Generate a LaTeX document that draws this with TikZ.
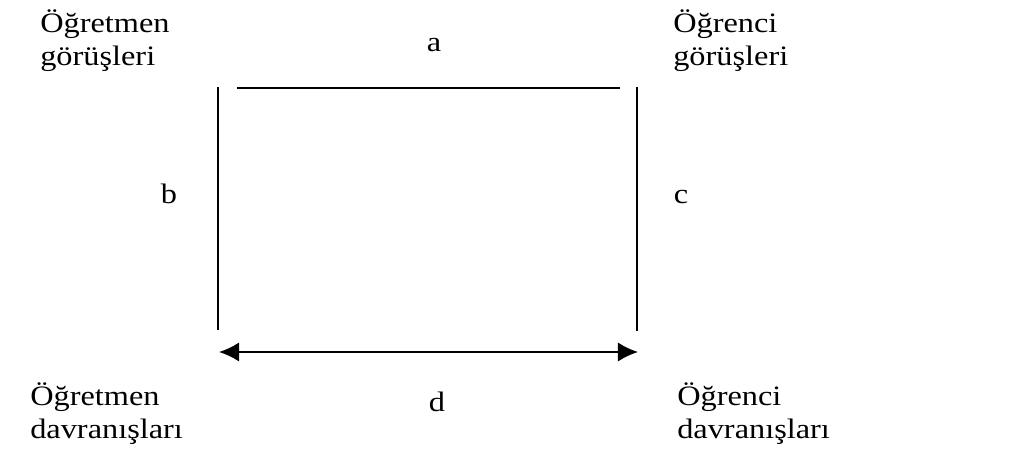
\documentclass[tikz,border=0pt]{standalone}
\usepackage{fontspec}
\setmainfont{Liberation Serif}[FakeStretch=1.15]
\usetikzlibrary{arrows.meta, positioning}

\begin{document}
\begin{tikzpicture}[
    x=0.025cm, y=-0.025cm,
    term/.style={inner sep=0pt, align=left, anchor=north west,
                font=\fontsize{20}{23.5}\selectfont},
    letter/.style={inner sep=0pt, anchor=base,
                font=\fontsize{20}{23.5}\selectfont},
    bar/.style={line width=0.9pt},
    arrow/.style={{Latex[length=5mm, width=4.8mm]}-{Latex[length=5mm, width=4.8mm]},
                line width=1.4pt}
]
\useasboundingbox (0,0) rectangle (1009,467);

%% GÖRÜŞLER
\node[term] (ogr_gor) at (40,9) {Öğretmen\\görüşleri};
\node[term] (ogc_gor) at (673,9) {Öğrenci\\görüşleri};

%% DAVRANIŞLAR
\node[term] (ogr_dav) at (30,382) {Öğretmen\\davranışları};
\node[term] (ogc_dav) at (677,382) {Öğrenci\\davranışları};

%% ILISKILER
\node[letter] (a) at (434,52) {a};
\node[letter] (b) at (169,203) {b};
\node[letter] (c) at (681,203) {c};
\node[letter] (d) at (437,411) {d};

\coordinate (top_l) at (237,88);
\coordinate (top_r) at (620,88);
\coordinate (left_t) at (218,87);
\coordinate (left_b) at (218,330);
\coordinate (right_t) at (637,87);
\coordinate (right_b) at (637,331);
\coordinate (arr_l) at (219,352);
\coordinate (arr_r) at (638,352);

\draw[bar, line width=1.4pt] (top_l) -- (top_r);
\draw[bar] (left_t) -- (left_b);
\draw[bar] (right_t) -- (right_b);
\draw[arrow] (arr_l) -- (arr_r);

\end{tikzpicture}
\end{document}
